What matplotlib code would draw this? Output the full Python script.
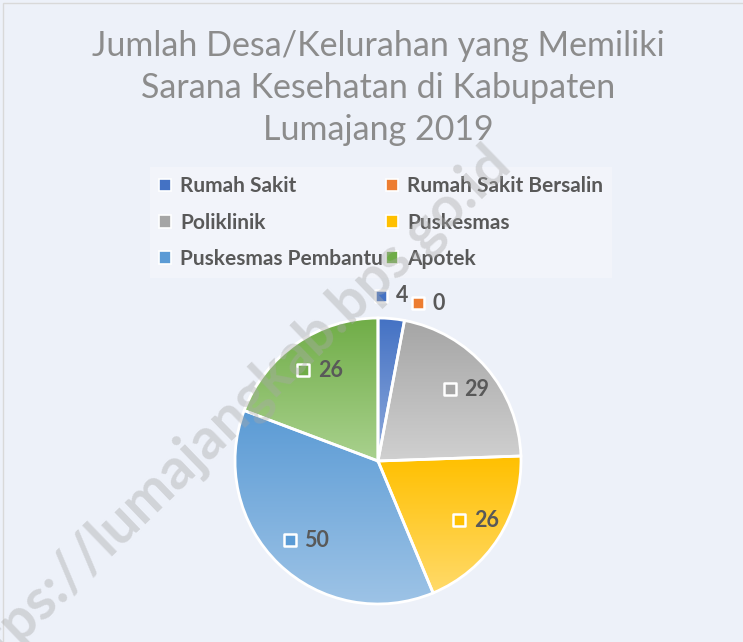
import matplotlib.pyplot as plt
import numpy as np
from matplotlib.colors import to_rgb
from matplotlib.patches import Rectangle

# data
categories = ['Rumah Sakit', 'Rumah Sakit Bersalin', 'Poliklinik', 'Puskesmas',
              'Puskesmas Pembantu', 'Apotek']
values = [4, 0, 29, 26, 50, 26]
top_colors = ['#4472C4', '#ED7D31', '#A5A5A5', '#FFC000', '#5B9BD5', '#70AD47']
bottom_colors = ['#8FAADC', '#F4B183', '#D0D0D0', '#FFDA6A', '#9DC3E6', '#A9D18E']
title = 'Jumlah Desa/Kelurahan yang Memiliki\nSarana Kesehatan di Kabupaten\nLumajang 2019'

W, H = 743, 642
bg = '#EDF1F9'
txt_col = '#595959'

fig = plt.figure(figsize=(W / 100, H / 100), dpi=100, facecolor=bg)

# thin chart border
fig.patches.append(Rectangle((3 / W, -0.1), 1.2, 1 - 3 / H + 0.1, transform=fig.transFigure,
                             facecolor='none', edgecolor='#D9D9D9', lw=1))

fig.text(378 / W, 1 - 88 / H, title, ha='center', va='center', fontsize=24.5,
         family='Lato', color='#8C8C8C', linespacing=1.4)

# pie axes: centre (378, 461) px, radius 143 px
cx, cy, R = 378, 461, 143
half = 200
ax = fig.add_axes([(cx - half) / W, (H - cy - half) / H, 2 * half / W, 2 * half / H])
ax.set_facecolor('none')

wedges, _ = ax.pie(values, colors=top_colors, startangle=90, counterclock=False,
                   radius=1, wedgeprops=dict(edgecolor='white', linewidth=2))

grad = np.linspace(0, 1, 256)[:, None, None]
for w, v, c1, c2 in zip(wedges, values, top_colors, bottom_colors):
    if v == 0:
        continue
    b = w.get_path().get_extents()
    img = (1 - grad) * np.array(to_rgb(c1)) + grad * np.array(to_rgb(c2))
    im = ax.imshow(img, extent=(b.x0, b.x1, b.y0, b.y1), origin='upper',
                   interpolation='bilinear', zorder=1)
    im.set_clip_path(w)
    w.set_facecolor('none')
    w.set_zorder(2)

# data labels
total = sum(values)
cum = np.cumsum([0] + values)
px = 1.0 / R
for i, v in enumerate(values):
    mid = (cum[i] + v / 2) / total * 2 * np.pi
    if v / total < 0.1:
        dist = 1.16
        mid = mid + (0.13 if v == 0 else 0.0)
    else:
        dist = 0.77
    x, y = dist * np.sin(mid), dist * np.cos(mid)
    ax.scatter([x - 12 * px], [y], marker='s', s=75, color=top_colors[i],
               edgecolor='white', linewidth=1.8, zorder=4)
    ax.text(x + 3 * px, y, str(v), ha='left', va='center', fontsize=15.5,
            family='Lato', fontweight='bold', color=txt_col, zorder=5)

ax.set_xlim(-half / R, half / R)
ax.set_ylim(-half / R, half / R)
ax.set_aspect('equal')
ax.axis('off')

# legend (rows: 2 items each)
handles = [Rectangle((0, 0), 1, 1, facecolor=c, edgecolor='white', lw=1.2) for c in top_colors]
order = [0, 2, 4, 1, 3, 5]
fig.legend([handles[k] for k in order], [categories[k] for k in order], ncol=2,
           loc='upper left', bbox_to_anchor=(150 / W, 1 - 167 / H), borderaxespad=0,
           frameon=True, facecolor='#F4F6FB', edgecolor='none', fancybox=False,
           prop=dict(family='Lato', weight='bold', size=15), labelcolor=txt_col,
           handlelength=0.55, handleheight=0.55, handletextpad=0.45,
           labelspacing=0.78, columnspacing=0.15, borderpad=0.45)

# watermark
fig.text(228 / W, 1 - 418 / H, 'https://lumajangkab.bps.go.id', rotation=44,
         ha='center', va='center', fontsize=41, family='Lato', fontweight='bold',
         color='#A8A8A8', alpha=0.4, zorder=10)

fig.savefig('out.png', dpi=100, facecolor=bg)
